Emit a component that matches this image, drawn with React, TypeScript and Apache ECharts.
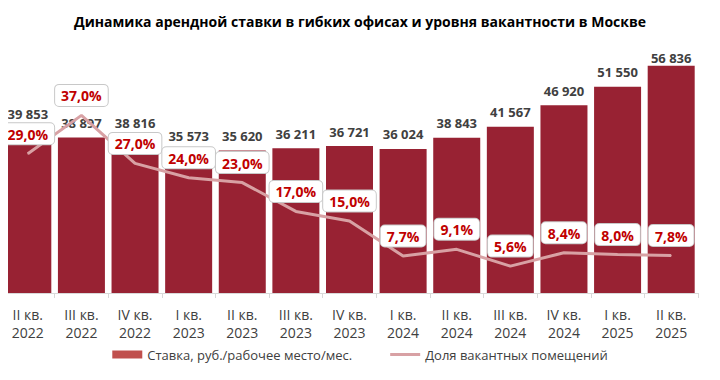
import React, { useEffect, useRef } from "react";
import * as echarts from "echarts";

const titleText = "Динамика арендной ставки в гибких офисах и уровня вакантности в Москве";
const categories = [
  "II кв.\n2022", "III кв.\n2022", "IV кв.\n2022", "I кв.\n2023", "II кв.\n2023",
  "III кв.\n2023", "IV кв.\n2023", "I кв.\n2024", "II кв.\n2024", "III кв.\n2024",
  "IV кв.\n2024", "I кв.\n2025", "II кв.\n2025",
];
const rentValues = [39853, 38897, 38816, 35573, 35620, 36211, 36721, 36024, 38843, 41567, 46920, 51550, 56836];
const vacancyValues = [29.0, 37.0, 27.0, 24.0, 23.0, 17.0, 15.0, 7.7, 9.1, 5.6, 8.4, 8.0, 7.8];
const rentName = "Ставка, руб./рабочее место/мес.";
const vacancyName = "Доля вакантных помещений";

const FONT = "'Open Sans', 'Noto Sans', sans-serif";
const LINE_COLOR = "#d8a1a4";

const fmtThousands = (v: number) => String(v).replace(/\B(?=(\d{3})+(?!\d))/g, " ");
const fmtPct = (v: number) => v.toFixed(1).replace(".", ",") + "%";

export default function App() {
  const ref = useRef<HTMLDivElement>(null);
  useEffect(() => {
    if (!ref.current) return;
    const chart = echarts.init(ref.current, null, { renderer: "svg" });
    const lastIdx = rentValues.length - 1;
    chart.setOption({
      animation: false,
      textStyle: { fontFamily: FONT },
      title: {
        text: titleText,
        left: "center",
        top: 9,
        textStyle: { fontFamily: FONT, fontSize: 14, fontWeight: "bold", color: "#000" },
      },
      legend: {
        bottom: 14,
        left: "center",
        itemGap: 38,
        itemWidth: 30,
        itemHeight: 8,
        textStyle: { fontFamily: FONT, fontSize: 13, color: "#404040" },
        data: [
          { name: rentName, icon: "rect", itemStyle: { color: "#c0504d" } },
          {
            name: vacancyName,
            icon: "path://M0,0 L30,0 L30,3 L0,3 Z",
            itemStyle: { color: LINE_COLOR, opacity: 1 },
          },
        ],
      },
      grid: { left: 1, right: 22, top: 53, bottom: 87 },
      xAxis: {
        type: "category",
        data: categories,
        axisLine: { lineStyle: { color: "#d9d9d9", width: 1 } },
        axisTick: { show: true, length: 5, lineStyle: { color: "#d9d9d9" } },
        axisLabel: {
          interval: 0,
          margin: 12,
          fontFamily: FONT,
          fontSize: 14,
          lineHeight: 18,
          color: "#404040",
        },
      },
      yAxis: [
        { type: "value", min: 0, max: 60000, show: false, splitLine: { show: false } },
        { type: "value", min: 0, max: 50, show: false, splitLine: { show: false } },
      ],
      series: [
        {
          name: rentName,
          type: "bar",
          data: rentValues.map((v, i) =>
            i === lastIdx
              ? { value: v, label: { distance: 1 } }
              : i === 0
              ? { value: v, label: { distance: 13 } }
              : v
          ),
          barWidth: 47,
          itemStyle: { color: "#982233" },
          label: {
            show: true,
            position: "top",
            distance: 8,
            formatter: (p: any) => fmtThousands(p.value),
            fontFamily: FONT,
            fontSize: 13,
            fontWeight: "bold",
            color: "#404040",
          },
          z: 1,
        },
        {
          name: vacancyName,
          type: "line",
          yAxisIndex: 1,
          data: vacancyValues,
          symbol: "circle",
          symbolSize: 1,
          showSymbol: true,
          lineStyle: { color: LINE_COLOR, width: 3 },
          itemStyle: { color: LINE_COLOR },
          label: {
            show: true,
            position: "top",
            distance: 9,
            formatter: (p: any) => fmtPct(p.value),
            fontFamily: FONT,
            fontSize: 14,
            fontWeight: "bold",
            color: "#c00000",
            backgroundColor: "#ffffff",
            borderColor: "#c8c8c8",
            borderWidth: 1,
            borderRadius: 4,
            padding: [4, 6, 3, 6],
          },
          z: 3,
        },
      ],
    });
    return () => chart.dispose();
  }, []);
  return <div ref={ref} style={{ width: 720, height: 380, margin: -8 }} />;
}
